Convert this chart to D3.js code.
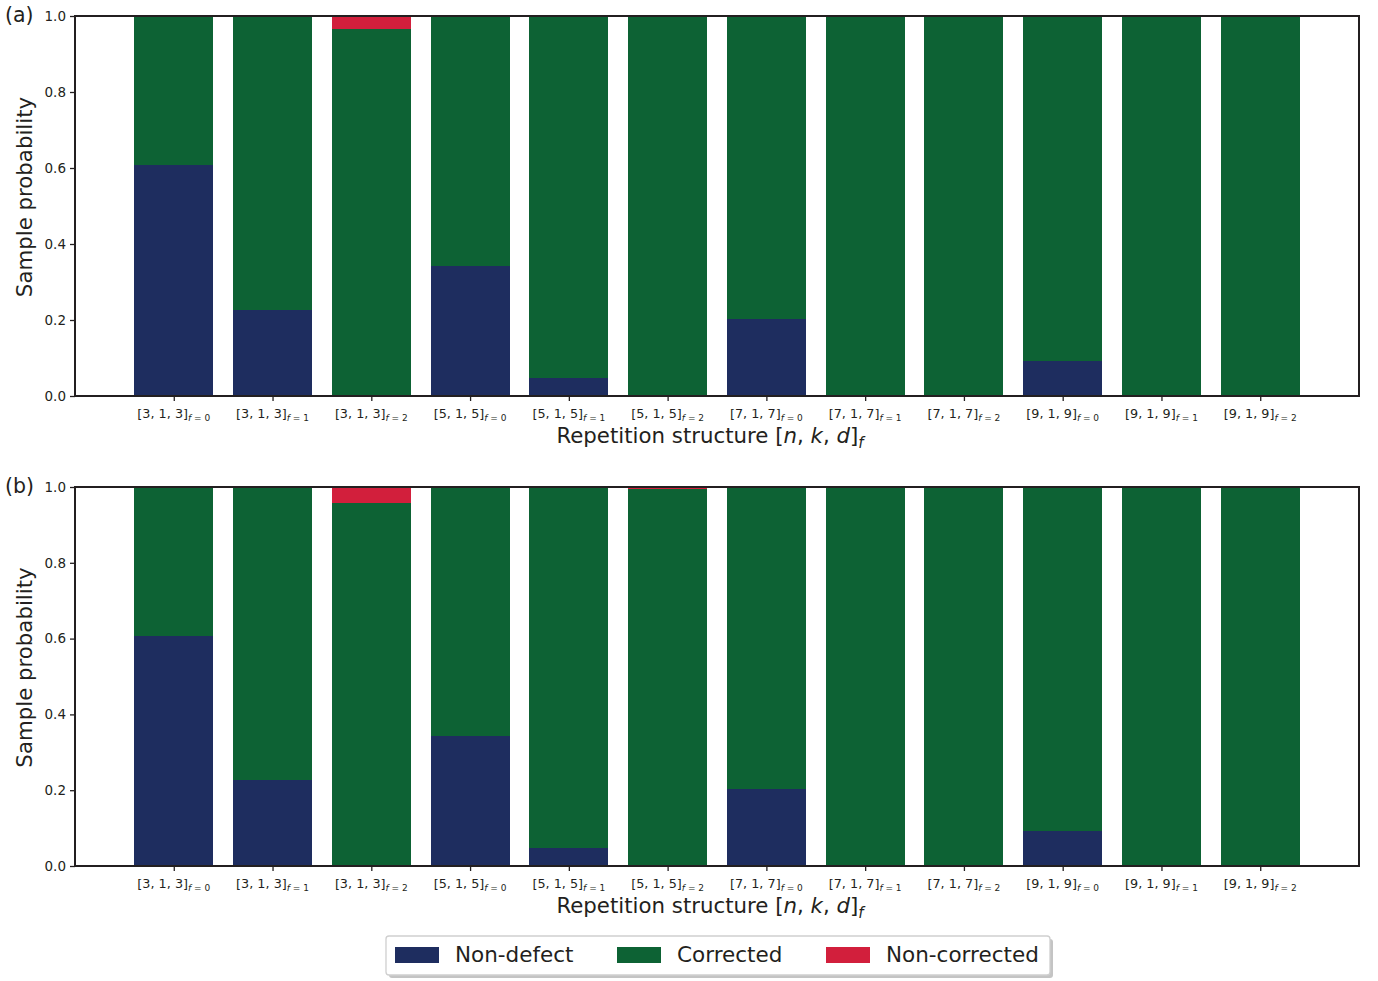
<!DOCTYPE html>
<html>
<head>
<meta charset="utf-8">
<script src="https://cdn.jsdelivr.net/npm/d3@7"></script>
<style>
  html, body { margin: 0; padding: 0; background: #fff; }
  svg { display: block; font-family: "DejaVu Sans", sans-serif; }
</style>
</head>
<body>
<svg id="chart" width="1378" height="981"></svg>
<script>
// Repetition-code structures [n, k, d] with number of flips f
const codes = ["3, 1, 3", "3, 1, 3", "3, 1, 3", "5, 1, 5", "5, 1, 5", "5, 1, 5",
               "7, 1, 7", "7, 1, 7", "7, 1, 7", "9, 1, 9", "9, 1, 9", "9, 1, 9"];
const flips = [0, 1, 2, 0, 1, 2, 0, 1, 2, 0, 1, 2];

// Panel (a)
const nonDefectA    = [0.607, 0.227, 0.000, 0.343, 0.047, 0.000, 0.203, 0.000, 0.000, 0.092, 0.000, 0.000];
const nonCorrectedA = [0.000, 0.000, 0.035, 0.000, 0.000, 0.000, 0.000, 0.000, 0.000, 0.000, 0.000, 0.000];
// Panel (b)
const nonDefectB    = [0.607, 0.227, 0.000, 0.343, 0.047, 0.000, 0.203, 0.000, 0.000, 0.092, 0.000, 0.000];
const nonCorrectedB = [0.000, 0.000, 0.042, 0.000, 0.000, 0.005, 0.000, 0.000, 0.000, 0.000, 0.000, 0.000];

const yTicks = [0.0, 0.2, 0.4, 0.6, 0.8, 1.0];
const seriesNames = ["Non-defect", "Corrected", "Non-corrected"];
const colors = {"Non-defect": "#1e2d5f", "Corrected": "#0d6234", "Non-corrected": "#d21f3c"};
const axisColor = "#231f20";

const svg = d3.select("#chart");
const left = 75, right = 1359;

const x = d3.scaleLinear().domain([-1, 12]).range([left, right]);
const barW = 0.8;

function panel(top, bottom, label, nonDefect, nonCorrected) {
  const y = d3.scaleLinear().domain([0, 1]).range([bottom, top]);
  const g = svg.append("g");

  const rows = codes.map((c, i) => {
    const nd = nonDefect[i], nc = nonCorrected[i];
    return {i, "Non-defect": nd, "Corrected": 1 - nd - nc, "Non-corrected": nc};
  });
  const stacked = d3.stack().keys(seriesNames)(rows);

  g.selectAll("g.series").data(stacked).join("g")
    .attr("fill", d => colors[d.key])
    .selectAll("rect").data(d => d).join("rect")
    .attr("x", d => x(d.data.i - barW / 2))
    .attr("width", d => x(barW) - x(0))
    .attr("y", d => y(d[1]))
    .attr("height", d => Math.max(0, y(d[0]) - y(d[1])))
    .attr("shape-rendering", "crispEdges");

  // y axis
  const ya = g.append("g").attr("transform", `translate(${left},0)`)
    .call(d3.axisLeft(y).tickValues(yTicks).tickFormat(d3.format(".1f")).tickSizeOuter(0).tickSize(5));
  ya.select(".domain").remove();
  ya.selectAll("line").attr("stroke", axisColor).attr("stroke-width", 1.3);
  ya.selectAll("text").attr("font-size", 13.5).attr("fill", axisColor)
    .attr("font-family", "DejaVu Sans").attr("dx", -1);

  // x axis
  const xa = g.append("g").attr("transform", `translate(0,${bottom})`)
    .call(d3.axisBottom(x).tickValues(d3.range(codes.length)).tickFormat("").tickSizeOuter(0).tickSize(5));
  xa.select(".domain").remove();
  xa.selectAll("line").attr("stroke", axisColor).attr("stroke-width", 1.3);

  // tick labels with subscript f = k
  codes.forEach((c, i) => {
    const t = g.append("text")
      .attr("x", x(i)).attr("y", bottom + 22)
      .attr("text-anchor", "middle")
      .attr("font-size", 12.8).attr("fill", axisColor);
    t.append("tspan").text(`[${c}]`);
    const sub = t.append("tspan").attr("font-size", 9).attr("dy", 3);
    sub.append("tspan").attr("font-style", "italic").text("f");
    sub.append("tspan").text(` = ${flips[i]}`);
  });

  // frame
  g.append("rect")
    .attr("x", left).attr("y", top)
    .attr("width", right - left).attr("height", bottom - top)
    .attr("fill", "none").attr("stroke", axisColor).attr("stroke-width", 2);

  // axis titles
  const xl = g.append("text")
    .attr("x", (left + right) / 2 - 7).attr("y", bottom + 47)
    .attr("text-anchor", "middle").attr("font-size", 21.3).attr("fill", axisColor);
  xl.append("tspan").text("Repetition structure [");
  xl.append("tspan").attr("font-style", "italic").text("n");
  xl.append("tspan").text(", ");
  xl.append("tspan").attr("font-style", "italic").text("k");
  xl.append("tspan").text(", ");
  xl.append("tspan").attr("font-style", "italic").text("d");
  xl.append("tspan").text("]");
  xl.append("tspan").attr("font-style", "italic").attr("font-size", 15).attr("dy", 5).text("f");

  g.append("text")
    .attr("transform", `translate(32,${(top + bottom) / 2 - 9}) rotate(-90)`)
    .attr("text-anchor", "middle").attr("font-size", 21.3).attr("fill", axisColor)
    .text("Sample probability");

  g.append("text")
    .attr("x", 5).attr("y", top + 6)
    .attr("font-size", 20.5).attr("fill", axisColor)
    .text(label);
}

panel(16, 396, "(a)", nonDefectA, nonCorrectedA);
panel(487, 866, "(b)", nonDefectB, nonCorrectedB);

// legend
const lg = svg.append("g");
lg.append("rect").attr("x", 389).attr("y", 939).attr("width", 664).attr("height", 39)
  .attr("rx", 3).attr("fill", "#b5b5b5").attr("opacity", 0.8);
lg.append("rect").attr("x", 386).attr("y", 936).attr("width", 664).attr("height", 39)
  .attr("rx", 3).attr("fill", "#fff").attr("stroke", "#cfcfcf").attr("stroke-width", 1.3);
const legendX = [395, 617, 826];
seriesNames.forEach((s, i) => {
  lg.append("rect").attr("x", legendX[i]).attr("y", 947).attr("width", 44).attr("height", 16)
    .attr("fill", colors[s]);
  lg.append("text").attr("x", legendX[i] + 60).attr("y", 962)
    .attr("font-size", 21.5).attr("fill", axisColor).text(s);
});
</script>
</body>
</html>
